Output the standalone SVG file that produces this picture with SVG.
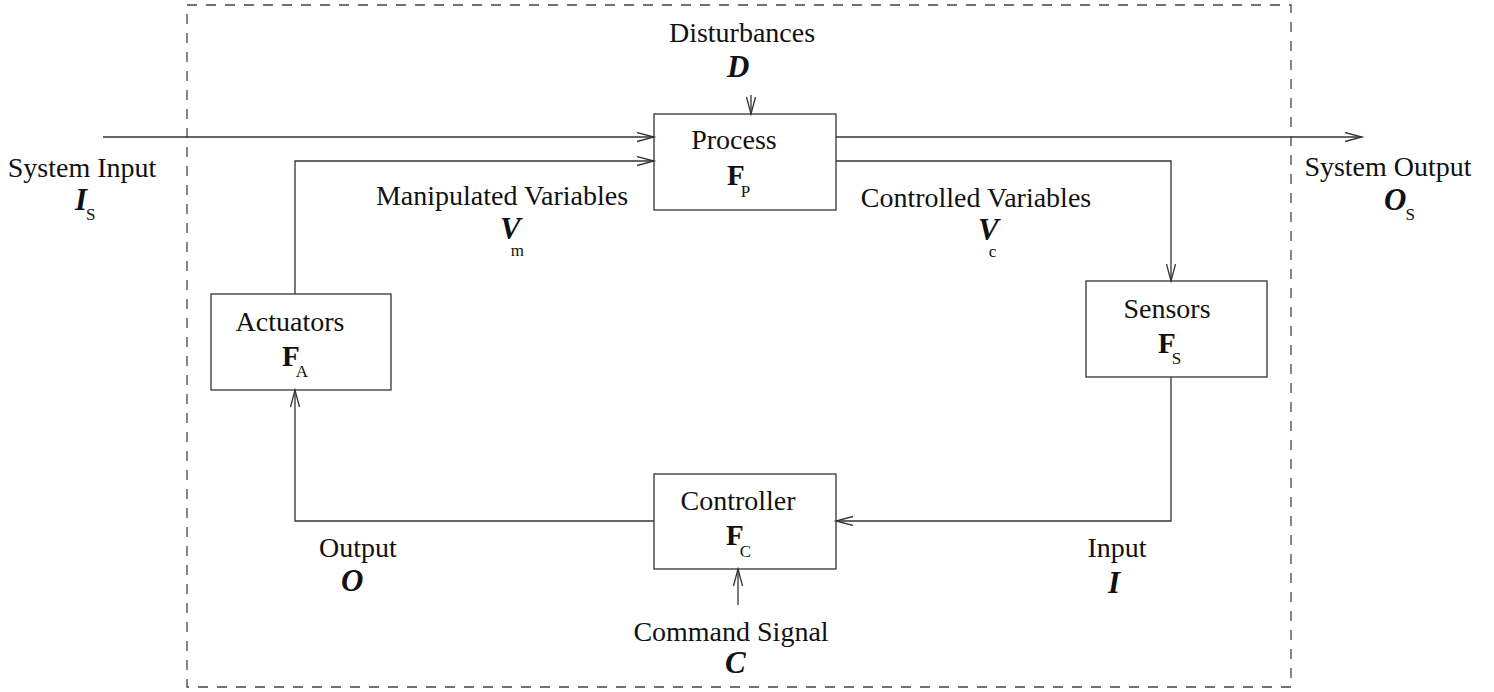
<svg xmlns="http://www.w3.org/2000/svg" width="1494" height="692" viewBox="0 0 1494 692">
<style>
.box{fill:none;stroke:#333;stroke-width:1.3}
.ln{fill:none;stroke:#333;stroke-width:1.3}
.dash{fill:none;stroke:#444;stroke-width:1.3;stroke-dasharray:10 9}
text{font-family:"Liberation Serif","Times New Roman",serif;fill:#111}
.t{font-size:28px;text-anchor:middle}
.v{font-size:31px;font-weight:bold;font-style:italic}
.f{font-size:29px;font-weight:bold}
.s{font-size:17px;font-weight:normal;font-style:normal}
</style>
<defs>
<marker id="arr" markerUnits="userSpaceOnUse" markerWidth="20" markerHeight="12" refX="17" refY="5" orient="auto">
<path d="M0,0.5 L17,5 L0,9.5" fill="none" stroke="#333" stroke-width="1.3"/>
</marker>
</defs>
<rect class="dash" x="187" y="5" width="1104" height="682"/>
<g id="connectors">
<path class="ln" d="M103,137 H654" marker-end="url(#arr)"/>
<path class="ln" d="M836,137 H1362" marker-end="url(#arr)"/>
<path class="ln" d="M751,95 V114" marker-end="url(#arr)"/>
<path class="ln" d="M836,161 H1171 V281" marker-end="url(#arr)"/>
<path class="ln" d="M1171,377 V521 H836" marker-end="url(#arr)"/>
<path class="ln" d="M654,521 H295 V390" marker-end="url(#arr)"/>
<path class="ln" d="M295,294 V161 H654" marker-end="url(#arr)"/>
<path class="ln" d="M738,605 V569" marker-end="url(#arr)"/>
</g>
<g id="process">
<rect class="box" x="654" y="114" width="182" height="96"/>
<text class="t" x="734" y="149">Process</text>
<text class="f" x="727" y="185">F<tspan class="s" dx="-4" dy="12">P</tspan></text>
</g>
<g id="sensors">
<rect class="box" x="1086" y="281" width="181" height="96"/>
<text class="t" x="1167" y="318">Sensors</text>
<text class="f" x="1158" y="353">F<tspan class="s" dx="-4" dy="11">S</tspan></text>
</g>
<g id="actuators">
<rect class="box" x="211" y="294" width="180" height="96"/>
<text class="t" x="290" y="331">Actuators</text>
<text class="f" x="282" y="366">F<tspan class="s" dx="-4" dy="11">A</tspan></text>
</g>
<g id="controller">
<rect class="box" x="654" y="474" width="182" height="95"/>
<text class="t" x="738" y="510">Controller</text>
<text class="f" x="726" y="545">F<tspan class="s" dx="-4" dy="12">C</tspan></text>
</g>
<g id="labels">
<text class="t" x="742" y="42">Disturbances</text>
<text class="v" x="727" y="77">D</text>
<text class="t" x="82" y="177">System Input</text>
<text class="v" x="75" y="210">I<tspan class="s" dx="-1" dy="10">S</tspan></text>
<text class="t" x="1388" y="176">System Output</text>
<text class="v" x="1384" y="210">O<tspan class="s" dx="-1" dy="10">S</tspan></text>
<text class="t" x="502" y="205">Manipulated Variables</text>
<text class="v" x="500" y="239">V<tspan class="s" dx="-10" dy="17">m</tspan></text>
<text class="t" x="976" y="207">Controlled Variables</text>
<text class="v" x="978" y="240">V<tspan class="s" dx="-10" dy="17">c</tspan></text>
<text class="t" x="358" y="557">Output</text>
<text class="v" x="341" y="591">O</text>
<text class="t" x="1117" y="557">Input</text>
<text class="v" x="1108" y="593">I</text>
<text class="t" x="731" y="641">Command Signal</text>
<text class="v" x="725" y="673">C</text>
</g>
</svg>
